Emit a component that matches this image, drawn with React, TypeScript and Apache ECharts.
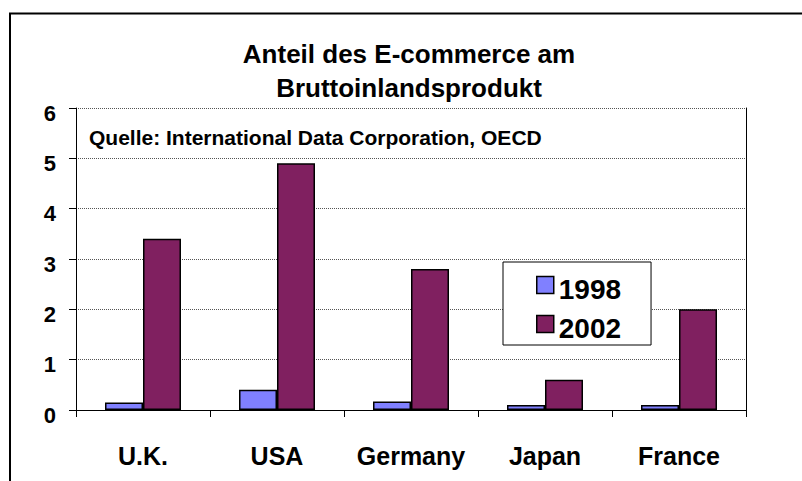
import React, { useEffect, useRef } from "react";
import * as echarts from "echarts";

const categories = ["U.K.", "USA", "Germany", "Japan", "France"];
const values1998 = [0.15, 0.4, 0.17, 0.1, 0.1];
const values2002 = [3.4, 4.9, 2.8, 0.6, 2.0];
const seriesNames = ["1998", "2002"];
const titleText = "Anteil des E-commerce am\nBruttoinlandsprodukt";
const sourceText = "Quelle: International Data Corporation, OECD";

const FONT = "'Liberation Sans', Arial, Helvetica, sans-serif";

export default function App() {
  const ref = useRef<HTMLDivElement>(null);
  useEffect(() => {
    if (!ref.current) return;
    const chart = echarts.init(ref.current, null, { renderer: "svg" });
    chart.setOption({
      animation: false,
      backgroundColor: "#ffffff",
      textStyle: { fontFamily: FONT },
      title: {
        text: titleText,
        left: 409,
        top: 37,
        textAlign: "center",
        padding: 0,
        textStyle: {
          fontFamily: FONT,
          fontWeight: "bold",
          fontSize: 26,
          lineHeight: 34,
          color: "#000",
        },
      },
      legend: {
        orient: "vertical",
        left: 503,
        top: 262,
        padding: [13, 30, 3, 33],
        itemGap: 11,
        itemWidth: 17,
        itemHeight: 17,
        backgroundColor: "#fff",
        borderColor: "#000",
        borderWidth: 1,
        borderRadius: 0,
        icon: "rect",
        data: seriesNames,
        itemStyle: { borderColor: "#000", borderWidth: 1.5 },
        formatter: "{t|{name}}",
        textStyle: {
          fontFamily: FONT,
          fontWeight: "bold",
          fontSize: 28,
          color: "#000",
          rich: {
            t: {
              fontFamily: FONT,
              fontWeight: "bold",
              fontSize: 28,
              color: "#000",
              padding: [8, 0, 0, 0],
            },
          },
        },
      },
      grid: { left: 76, top: 108, right: 56, bottom: 71, containLabel: false },
      xAxis: {
        type: "category",
        data: categories,
        boundaryGap: true,
        axisLine: { show: true, lineStyle: { color: "#000", width: 1 } },
        axisTick: { show: true, length: 7, alignWithLabel: false, lineStyle: { color: "#000" } },
        axisLabel: {
          margin: 33,
          fontFamily: FONT,
          fontWeight: "bold",
          fontSize: 25,
          color: "#000",
          interval: 0,
        },
        splitLine: { show: false },
      },
      yAxis: [
        {
          type: "value",
          min: 0,
          max: 6,
          interval: 1,
          axisLine: { show: true, lineStyle: { color: "#000", width: 1 } },
          axisTick: { show: true, length: 7, lineStyle: { color: "#000" } },
          axisLabel: {
            margin: 20,
            formatter: "{v|{value}}",
            rich: {
              v: {
                fontFamily: FONT,
                fontWeight: "bold",
                fontSize: 22,
                color: "#000",
                padding: [10, 0, 0, 0],
              },
            },
          },
          splitLine: { show: true, lineStyle: { color: "#555", type: "dotted", width: 1 } },
        },
        {
          type: "value",
          min: 0,
          max: 6,
          interval: 1,
          position: "right",
          axisLine: { show: true, lineStyle: { color: "#000", width: 1 } },
          axisTick: { show: false },
          axisLabel: { show: false },
          splitLine: { show: false },
        },
      ],
      series: [
        {
          name: seriesNames[0],
          type: "bar",
          data: values1998,
          barWidth: 38,
          barGap: "0%",
          itemStyle: { color: "#8080FF", borderColor: "#000", borderWidth: 1.5 },
        },
        {
          name: seriesNames[1],
          type: "bar",
          data: values2002,
          barWidth: 38,
          barGap: "0%",
          itemStyle: { color: "#802060", borderColor: "#000", borderWidth: 1.5 },
        },
      ],
      graphic: [
        {
          type: "rect",
          shape: { x: 10, y: 13.5, width: 900, height: 600 },
          style: { fill: "none", stroke: "#000", lineWidth: 2 },
          silent: true,
        },
        {
          type: "text",
          x: 89,
          y: 137,
          style: {
            text: sourceText,
            fontFamily: FONT,
            fontWeight: "bold",
            fontSize: 21,
            fill: "#000",
            textAlign: "left",
            textVerticalAlign: "middle",
          },
        },
      ],
    });
    return () => chart.dispose();
  }, []);
  return (
    <div
      ref={ref}
      style={{ position: "fixed", left: 0, top: 0, width: 802, height: 481 }}
    />
  );
}
